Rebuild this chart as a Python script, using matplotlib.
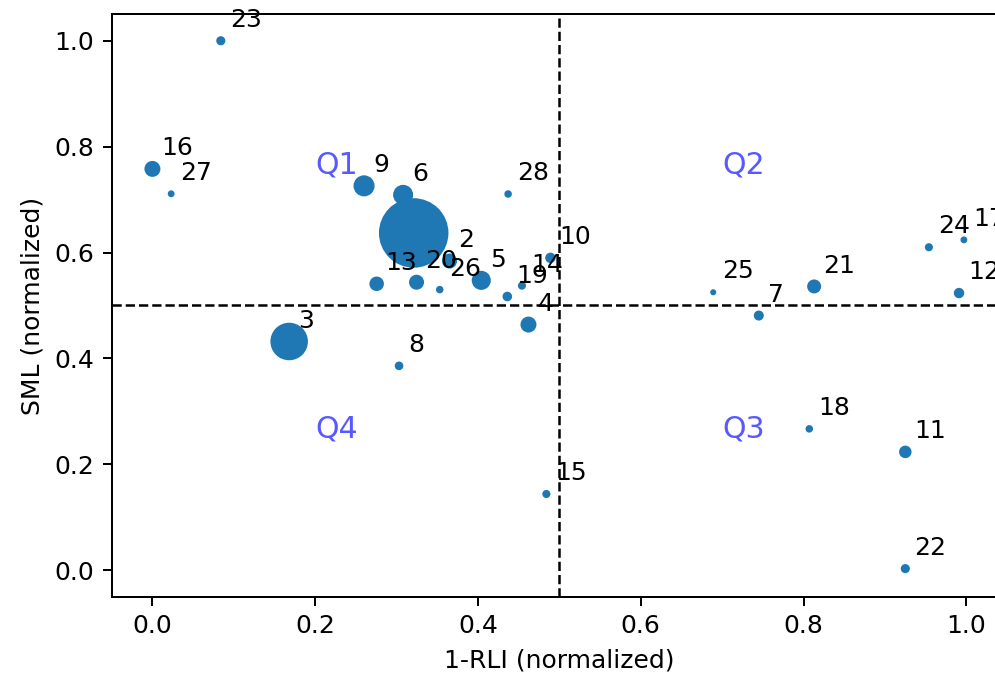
import matplotlib
matplotlib.use("Agg")
import matplotlib.pyplot as plt

# point ids and normalized indicators
ids = list(range(1, 29))
rli = [0.321, 0.365, 0.168, 0.462, 0.404, 0.308, 0.745, 0.303, 0.260, 0.489,
       0.925, 0.991, 0.2755, 0.454, 0.484, 0.000, 0.997, 0.807, 0.436, 0.3245,
       0.813, 0.925, 0.084, 0.954, 0.689, 0.353, 0.023, 0.437]
sml = [0.637, 0.584, 0.432, 0.464, 0.5475, 0.709, 0.481, 0.386, 0.726, 0.590,
       0.2235, 0.5235, 0.541, 0.5375, 0.144, 0.758, 0.624, 0.267, 0.517, 0.544,
       0.536, 0.003, 1.000, 0.610, 0.525, 0.530, 0.711, 0.7106]
sizes = [718, 25, 196, 29, 44, 49, 9, 6, 55, 10,
         16, 10, 23, 5, 5, 29, 3, 4, 8, 25,
         21, 7, 7, 5, 2, 4, 3, 4]

quadrants = ["Q1", "Q2", "Q3", "Q4"]
q_pos = [(0.2, 0.75), (0.7, 0.75), (0.7, 0.25), (0.2, 0.25)]

fig = plt.figure(figsize=(995 / 180, 681 / 180), dpi=180)
ax = fig.add_axes([0.1123, 0.1238, 0.8998, 0.8552])

ax.scatter(rli, sml, s=sizes, color="#1f77b4", zorder=2)
for i, x, y in zip(ids, rli, sml):
    if i == 1:
        continue  # label of the big point is not shown
    ax.text(x + 0.011, y + 0.026, str(i), fontsize=10, zorder=3)

for q, (qx, qy) in zip(quadrants, q_pos):
    ax.text(qx, qy, q, fontsize=12, color="blue", alpha=0.65, zorder=1)

ax.axhline(0.5, ls="--", color="k", lw=1, zorder=4)
ax.axvline(0.5, ls="--", color="k", lw=1, zorder=4)

ax.set_xlim(-0.05, 1.05)
ax.set_ylim(-0.05, 1.05)
ax.set_xlabel("1-RLI (normalized)")
ax.set_ylabel("SML (normalized)")

fig.savefig("out.png", dpi=180)
